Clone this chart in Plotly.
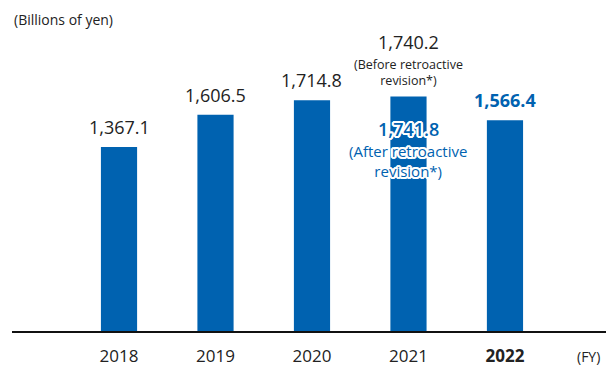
import plotly.graph_objects as go

# Net sales by fiscal year (billions of yen)
years = ["2018", "2019", "2020", "2021", "2022"]
sales = [1367.1, 1606.5, 1714.8, 1741.8, 1566.4]
sales_2021_before_revision = 1740.2
latest_index = 4

BAR_BLUE = "#0062B0"
TEXT_DARK = "#222222"
FONT = "Open Sans"

xs = list(range(len(years)))

fig = go.Figure(
    go.Bar(
        x=xs,
        y=sales,
        width=0.375,
        marker=dict(color=BAR_BLUE, line=dict(width=0)),
        hoverinfo="skip",
    )
)

annotations = []

# Value labels above each bar (2021 handled separately)
for i, v in enumerate(sales):
    if i == 3:
        continue
    latest = i == latest_index
    annotations.append(dict(
        x=i, y=v, xref="x", yref="y",
        text=f"{v:,.1f}",
        showarrow=False, yanchor="bottom", yshift=6,
        font=dict(family=FONT, size=18,
                  color=BAR_BLUE if latest else TEXT_DARK,
                  weight=700 if latest else 400),
    ))

# 2021: figure before retroactive revision, above the bar
annotations.append(dict(
    x=3, y=sales[3], xref="x", yref="y",
    text=f"{sales_2021_before_revision:,.1f}",
    showarrow=False, yanchor="bottom", yshift=41,
    font=dict(family=FONT, size=18, color=TEXT_DARK),
))
annotations.append(dict(
    x=3, y=sales[3], xref="x", yref="y",
    text="(Before retroactive<br>revision*)",
    showarrow=False, yanchor="bottom", yshift=6,
    font=dict(family=FONT, size=12.5, color=TEXT_DARK),
))

# 2021: figure after retroactive revision, white-outlined text over the bar
offsets = [(dx, dy) for dx in (-2, -1, 0, 1, 2) for dy in (-2, -1, 0, 1, 2)
           if (dx, dy) != (0, 0) and abs(dx) + abs(dy) <= 3]
outline = ", ".join(f"{dx}px {dy}px 0 #fff" for dx, dy in offsets)
annotations.append(dict(
    x=3, y=sales[3], xref="x", yref="y",
    text=f"{sales[3]:,.1f}",
    showarrow=False, yanchor="top", yshift=-18,
    font=dict(family=FONT, size=18, color=BAR_BLUE, weight=600, shadow=outline),
))
annotations.append(dict(
    x=3, y=sales[3], xref="x", yref="y",
    text="(After retroactive<br>revision*)",
    showarrow=False, yanchor="top", yshift=-42,
    font=dict(family=FONT, size=15, color=BAR_BLUE, weight=500, shadow=outline),
))

# Unit and axis captions
annotations.append(dict(
    x=0, y=1, xref="paper", yref="paper", yshift=-19,
    text="(Billions of yen)", showarrow=False,
    xanchor="left", yanchor="middle",
    font=dict(family=FONT, size=14, color=TEXT_DARK),
))
annotations.append(dict(
    x=1, y=0, xref="paper", yref="paper",
    text="(FY)", showarrow=False,
    xanchor="right", yanchor="middle", xshift=-4, yshift=-25,
    font=dict(family=FONT, size=14, color=TEXT_DARK),
))

ticktext = [f"<b>{y}</b>" if i == latest_index else y for i, y in enumerate(years)]

fig.update_layout(
    width=606, height=367,
    margin=dict(l=12, r=0, t=0, b=36),
    paper_bgcolor="white", plot_bgcolor="white",
    showlegend=False,
    annotations=annotations,
    xaxis=dict(
        range=[-1.109, 5.047],
        tickvals=xs, ticktext=ticktext,
        showline=True, linecolor="#111111", linewidth=1.5,
        showgrid=False, zeroline=False, ticks="",
        ticklabelstandoff=9,
        tickfont=dict(family=FONT, size=17, color=TEXT_DARK),
        fixedrange=True,
    ),
    yaxis=dict(
        range=[0, 2459],
        visible=False, showgrid=False, zeroline=False,
        fixedrange=True,
    ),
)

fig.write_html("out.html", config={"displayModeBar": False})
